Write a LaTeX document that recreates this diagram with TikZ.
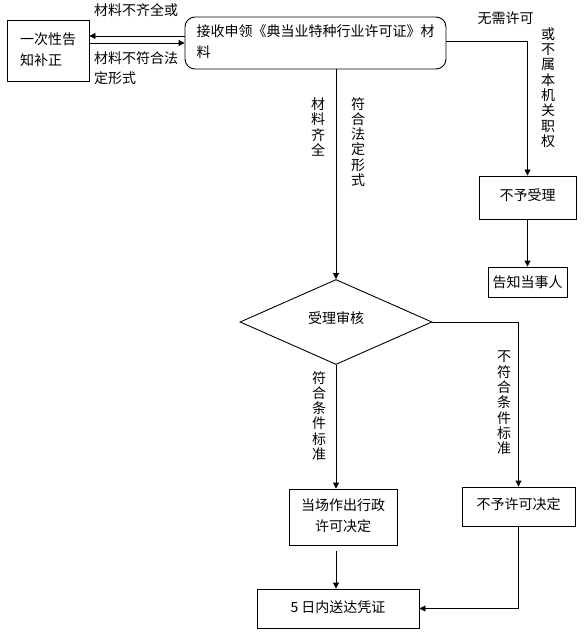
\documentclass[tikz,border=0pt]{standalone}
\usepackage{fontspec}
\setmainfont{Noto Sans CJK SC}
\usetikzlibrary{arrows.meta,shapes.geometric}
\newcommand\rlines[3]{\raisebox{#1}{\begin{tabular}{@{}#2@{}}#3\end{tabular}}}
\begin{document}
\begin{tikzpicture}[x=1pt,y=-1pt,
  font=\fontsize{14pt}{21pt}\selectfont,
  box/.style={draw, line width=0.9pt, inner sep=0pt},
  arr/.style={line width=0.9pt, -{Triangle[width=6pt,length=6pt]}},
  lbl/.style={inner sep=0pt, align=left},
  vlbl/.style={inner sep=0pt, align=center, font=\fontsize{14pt}{15.3pt}\selectfont}]
\useasboundingbox (0,0) rectangle (585,636);

% boxes
\node[box, minimum width=82pt, minimum height=61pt] (notice) at (48,50.5)
  {\rlines{5pt}{l}{一次性告\\知补正}};
\node[box, rounded corners=10pt, minimum width=261pt, minimum height=52pt] (recv) at (315.5,43)
  {\rlines{0pt}{l}{接收申领《典当业特种行业许可证》材\\料}};
\node[box, minimum width=97pt, minimum height=43pt] (noacc) at (527.5,197.5)
  {\raisebox{5pt}{不予受理}};
\node[box, minimum width=79pt, minimum height=30pt] (notify) at (527.5,282)
  {告知当事人};
\node[box, diamond, minimum width=192pt, minimum height=85pt] (check) at (336,322)
  {\raisebox{9pt}{受理审核}};
\node[box, minimum width=108pt, minimum height=56pt] (grant) at (343,517)
  {\rlines{0pt}{c}{当场作出行政\\许可决定}};
\node[box, minimum width=113pt, minimum height=39pt] (rej) at (518.5,506.5)
  {\raisebox{6pt}{不予许可决定}};
\node[box, minimum width=162pt, minimum height=39pt] (deliver) at (338,608.5)
  {\raisebox{3pt}{5 日内送达凭证}};

% connectors
\coordinate (a1) at ([yshift=7pt]recv.west);
\draw[arr] (a1) -- (a1 -| notice.east);
\draw[arr] (recv.west -| notice.east) -- (recv.west);
\draw[arr] ([yshift=2pt]recv.east) -| (noacc.north);
\draw[arr] (noacc.south) -- (notify.north);
\draw[arr] (recv.south -| check.north) -- (check.north);
\draw[arr] (check.east) -| (rej.north);
\draw[arr] (check.south) -- (check.south |- grant.north);
\coordinate (g1) at ([yshift=-6pt]grant.south);
\draw[arr] (g1 -| check.south) -- (deliver.north -| check.south);
\draw[arr] (rej.south) |- (deliver.east);

% labels
\node[lbl] (l1) at (136,10) {材料不齐全或};
\node[lbl, anchor=west] (l2) at (94,68) {材料不符合法\\[-1pt]定形式};
\node[lbl] (l3) at (505.5,18) {无需许可};
\node[vlbl] (l4) at (548,87.5) {或\\不\\属\\本\\机\\关\\职\\权};
\node[vlbl] (l5) at (318,127) {材\\料\\齐\\全};
\node[vlbl] (l6) at (358,142) {符\\合\\法\\定\\形\\式};
\node[vlbl] (l7) at (319,416) {符\\合\\条\\件\\标\\准};
\node[vlbl] (l8) at (504,403) {不\\符\\合\\条\\件\\标\\准};
\end{tikzpicture}
\end{document}
